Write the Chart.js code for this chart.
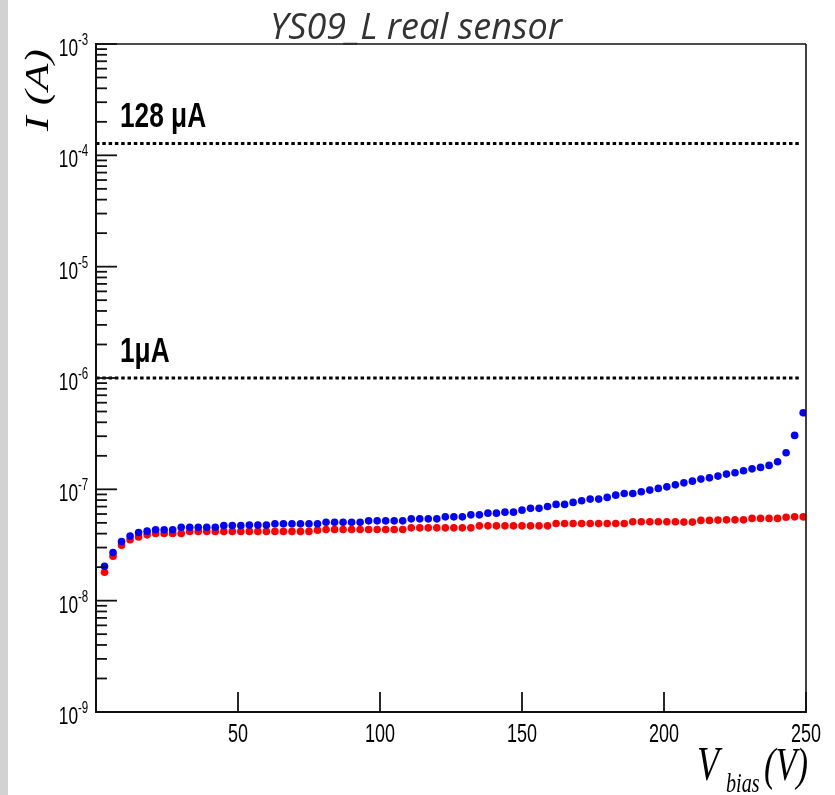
<!DOCTYPE html>
<html>
<head>
<meta charset="utf-8">
<title>YS09_L real sensor</title>
<script src="https://cdn.jsdelivr.net/npm/chart.js@4.4.0/dist/chart.umd.min.js"></script>
<style>
  html, body { margin: 0; padding: 0; background: #fff; }
  canvas { display: block; }
</style>
</head>
<body>
<canvas id="iv-chart" width="835" height="795"></canvas>
<script>
// ── Data ───────────────────────────────────────────
const voltages = [
  3, 6, 9, 12, 15, 18, 21, 24, 27, 30, 33, 36, 39, 42, 45, 48, 51,
  54, 57, 60, 63, 66, 69, 72, 75, 78, 81, 84, 87, 90, 93, 96, 99, 102,
  105, 108, 111, 114, 117, 120, 123, 126, 129, 132, 135, 138, 141, 144, 147, 150, 153,
  156, 159, 162, 165, 168, 171, 174, 177, 180, 183, 186, 189, 192, 195, 198, 201, 204,
  207, 210, 213, 216, 219, 222, 225, 228, 231, 234, 237, 240, 243, 246, 249
];

// leakage current, nA
const currentBlue = [
  20.4, 27.1, 34.0, 38.0, 41.0, 42.1, 43.3, 43.3, 43.3, 45.7, 45.7, 45.7, 45.7, 45.7, 47.4, 47.4, 47.4,
  47.7, 47.7, 47.7, 49.0, 49.0, 49.0, 49.0, 49.0, 49.0, 50.7, 50.7, 50.7, 50.7, 50.7, 52.1, 52.1, 52.1,
  52.1, 52.1, 54.3, 54.3, 54.3, 54.3, 56.6, 56.6, 56.6, 59.0, 59.0, 61.1, 61.1, 62.4, 62.4, 65.0, 67.5,
  67.5, 70.2, 73.2, 73.2, 76.3, 78.9, 81.7, 81.7, 84.6, 88.7, 91.8, 91.8, 95.0, 98.4, 101.9, 105.3, 109.7,
  114.3, 118.5, 123.6, 126.8, 131.5, 137.1, 140.7, 146.7, 152.8, 157.4, 164.0, 176.7, 213, 305, 487
];

const currentRed = [
  18.0, 25.1, 31.5, 35.2, 37.4, 39.0, 40.2, 40.2, 40.2, 40.2, 41.9, 41.9, 41.9, 41.9, 41.9, 41.9, 41.9,
  41.9, 41.9, 41.9, 41.9, 41.9, 41.9, 41.9, 41.9, 43.0, 43.6, 43.6, 43.6, 43.6, 43.6, 43.6, 43.6, 43.6,
  43.6, 43.6, 45.1, 45.1, 45.1, 45.1, 45.1, 45.1, 45.1, 45.1, 47.0, 47.0, 47.0, 47.0, 47.0, 47.0, 47.0,
  47.0, 47.0, 49.4, 49.4, 49.4, 49.4, 49.4, 49.4, 49.4, 49.4, 49.4, 51.1, 51.1, 51.1, 51.1, 51.1, 51.1,
  50.8, 50.8, 52.6, 52.6, 52.9, 53.2, 53.2, 53.2, 54.8, 54.8, 54.8, 54.8, 56.2, 56.6, 56.6
];

// compliance limits, A
const limitValues = [1.28e-4, 1e-6];
const limitLabels = ['128 \u03bcA', '1\u03bcA'];

// axis ticks
const xTicks      = [50, 100, 150, 200, 250];
const xTickLabels = ['50', '100', '150', '200', '250'];
const yDecades    = [-9, -8, -7, -6, -5, -4, -3];
const yTickLabels = ['-9', '-8', '-7', '-6', '-5', '-4', '-3'];

const toPoints = arr => voltages.map((v, i) => ({ x: v, y: arr[i] * 1e-9 }));

// ── Helpers ────────────────────────────────────────
// ROOT text in the picture is squeezed sideways, sx handles that
function drawText(ctx, text, x, y, font, align, sx, color) {
  ctx.save();
  ctx.font = font;
  ctx.fillStyle = color || '#000';
  ctx.textAlign = align;
  ctx.textBaseline = 'alphabetic';
  ctx.translate(x, y);
  ctx.scale(sx, 1);
  ctx.fillText(text, 0, 0);
  ctx.restore();
}

function line(ctx, x1, y1, x2, y2) {
  ctx.beginPath();
  ctx.moveTo(x1, y1);
  ctx.lineTo(x2, y2);
  ctx.stroke();
}

// ── ROOT style frame, ticks, labels ────────────────
const rootFrame = {
  id: 'rootFrame',
  beforeDraw(chart) {
    const ctx = chart.ctx;
    ctx.save();
    ctx.fillStyle = '#fff';
    ctx.fillRect(0, 0, chart.width, chart.height);
    ctx.fillStyle = '#d2d2d2';
    ctx.fillRect(0, 0, 8, chart.height);
    ctx.restore();
  },
  afterDatasetsDraw(chart) {
    const ctx = chart.ctx;
    const { left, right, top, bottom } = chart.chartArea;
    const xs = chart.scales.x;
    const ys = chart.scales.y;
    const SANS = "'Liberation Sans', Arial, sans-serif";
    const SERIF = "'Liberation Serif', 'Times New Roman', serif";

    ctx.save();
    ctx.strokeStyle = '#111';
    ctx.lineCap = 'butt';

    // frame
    ctx.lineWidth = 1.6;
    line(ctx, left, top, right, top);
    line(ctx, right, top, right, bottom);
    ctx.lineWidth = 2;
    line(ctx, left, top - 1, left, bottom + 1);
    line(ctx, left - 1, bottom, right + 1, bottom);

    // y ticks (inside)
    ctx.lineWidth = 1.8;
    yDecades.forEach((e, i) => {
      const yp = ys.getPixelForValue(Math.pow(10, e));
      line(ctx, left, yp, left + 21, yp);
      if (i < yDecades.length - 1) {
        for (let k = 2; k <= 9; k++) {
          const ym = ys.getPixelForValue(k * Math.pow(10, e));
          line(ctx, left, ym, left + 11, ym);
        }
      }
      drawText(ctx, '10', left - 18, yp + 12, `24px ${SANS}`, 'right', 0.72);
      drawText(ctx, yTickLabels[i], left - 18, yp + 1, `16px ${SANS}`, 'left', 0.72);
    });

    // x ticks (inside)
    xTicks.forEach((v, i) => {
      const xp = xs.getPixelForValue(v);
      line(ctx, xp, bottom, xp, bottom - 20);
      drawText(ctx, xTickLabels[i], xp, bottom + 30, `25px ${SANS}`, 'center', 0.72);
    });

    // limit labels
    limitValues.forEach((v, i) => {
      const yp = ys.getPixelForValue(v);
      drawText(ctx, limitLabels[i], left + 24, yp - 16, `bold 35px ${SANS}`, 'left', 0.75);
    });

    // y title, rotated
    ctx.save();
    ctx.translate(48, 90);
    ctx.rotate(-Math.PI / 2);
    ctx.scale(1, 0.75);
    ctx.font = `italic 44px ${SERIF}`;
    ctx.fillStyle = '#000';
    ctx.textAlign = 'center';
    ctx.fillText('I (A)', 0, 0);
    ctx.restore();

    // x title  V_bias (V)
    drawText(ctx, 'V', 697, 780, `italic 48px ${SERIF}`, 'left', 0.75);
    drawText(ctx, 'bias', 726, 792, `italic 28px ${SERIF}`, 'left', 0.72);
    drawText(ctx, '(V)', 764, 780, `italic 46px ${SERIF}`, 'left', 0.75);

    // slide title
    drawText(ctx, 'YS09_L real sensor', 416, 39, `italic 36px 'Open Sans', sans-serif`, 'center', 1.0, '#333');

    ctx.restore();
  }
};

// ── Chart ──────────────────────────────────────────
const canvas = document.getElementById('iv-chart');

new Chart(canvas, {
  type: 'scatter',
  data: {
    datasets: [
      {
        label: 'sensor A',
        data: toPoints(currentBlue),
        pointRadius: 3.8,
        pointBackgroundColor: '#0000ff',
        pointBorderWidth: 0,
        showLine: false,
      },
      {
        label: 'sensor B',
        data: toPoints(currentRed),
        pointRadius: 3.8,
        pointBackgroundColor: '#ff0000',
        pointBorderWidth: 0,
        showLine: false,
      },
      ...limitValues.map(v => ({
        type: 'line',
        label: 'limit',
        data: [{ x: 0, y: v }, { x: 248, y: v }],
        borderColor: '#000',
        borderWidth: 3,
        borderDash: [3.5, 2.8],
        borderCapStyle: 'butt',
        pointRadius: 0,
        fill: false,
      })),
    ]
  },
  options: {
    responsive: false,
    animation: false,
    devicePixelRatio: 1,
    layout: { padding: { left: 96, top: 44, right: 29, bottom: 83 } },
    scales: {
      x: { type: 'linear', min: 0, max: 250, display: false },
      y: { type: 'logarithmic', min: 1e-9, max: 1e-3, display: false },
    },
    plugins: {
      legend: { display: false },
      tooltip: { enabled: false },
    }
  },
  plugins: [rootFrame]
});
</script>
</body>
</html>
